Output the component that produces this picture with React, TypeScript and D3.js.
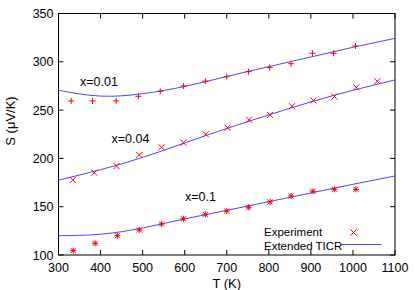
import React from 'react';
import * as d3 from 'd3';

// measured points (Experiment)
const temps01 = [330, 381, 437, 490, 542, 597, 649, 700, 752, 802, 853, 904, 954, 1006];
const seebeck01 = [259.5, 259.5, 259.5, 264.3, 269.5, 275, 280, 284.6, 289.8, 294, 298, 308.8, 308.8, 316.4];

const temps04 = [334, 385, 438, 492, 545, 597, 650, 702, 753, 803, 855, 906, 956, 1008, 1058];
const seebeck04 = [177.6, 185.2, 192.1, 203.5, 211.5, 216.3, 225, 231.8, 240, 245, 254, 260, 264, 273.6, 279.8];

const temps10 = [335, 387, 440, 492, 545, 597, 649, 700, 752, 803, 853, 905, 956, 1007];
const seebeck10 = [104.5, 112.1, 120, 125.9, 132.1, 137.6, 142.1, 145.5, 149.4, 154.9, 161.1, 166, 168, 168];

// model curves (Extended TICR)
const fitTemps = [300, 400, 500, 600, 700, 800, 900, 1000, 1100];
const fit01 = [270.5, 264.5, 267, 274.5, 284.8, 295, 305, 315, 324.3];
const fit04 = [177.5, 188.3, 201, 216, 231, 245, 258.5, 270.5, 281.2];
const fit10 = [120, 121.5, 128, 137.3, 146.2, 155.2, 164.2, 173.2, 181.8];

const xTicks = [300, 400, 500, 600, 700, 800, 900, 1000, 1100];
const yTicks = [100, 150, 200, 250, 300, 350];

const W = 415;
const H = 290;
const margin = { left: 58.5, right: 20, top: 13.5, bottom: 35 };
const font = 'Liberation Sans, Arial, sans-serif';
const red = '#ff0000';
const blue = '#3333ff';

const x = d3.scaleLinear().domain([300, 1100]).range([margin.left, W - margin.right]);
const y = d3.scaleLinear().domain([100, 350]).range([H - margin.bottom, margin.top]);

const line = d3.line<number>()
  .x((_, i) => x(fitTemps[i]))
  .y(d => y(d))
  .curve(d3.curveNatural);

const Plus = ({ cx, cy, s = 3 }: { cx: number; cy: number; s?: number }) => (
  <path d={`M${cx - s},${cy}H${cx + s}M${cx},${cy - s}V${cy + s}`} stroke={red} strokeWidth={1} fill="none" />
);

const Cross = ({ cx, cy, s = 3 }: { cx: number; cy: number; s?: number }) => (
  <path d={`M${cx - s},${cy - s}L${cx + s},${cy + s}M${cx - s},${cy + s}L${cx + s},${cy - s}`} stroke={red} strokeWidth={1} fill="none" />
);

const App: React.FC = () => {
  const [x0, x1] = x.range();
  const [y0, y1] = y.range();
  return (
    <svg width={W} height={H} style={{ position: 'fixed', left: 0, top: 0, background: '#fff' }} fontFamily={font} fontSize={12.5}>
      <defs>
        <clipPath id="plot">
          <rect x={x0} y={y1} width={x1 - x0} height={y0 - y1} />
        </clipPath>
      </defs>

      {/* ticks, mirrored inward */}
      {xTicks.map(t => (
        <g key={'x' + t}>
          <line x1={x(t)} x2={x(t)} y1={y0} y2={y0 - 5} stroke="#000" />
          <line x1={x(t)} x2={x(t)} y1={y1} y2={y1 + 5} stroke="#000" />
          <text x={x(t)} y={y0 + 17} textAnchor="middle">{t}</text>
        </g>
      ))}
      {yTicks.map(t => (
        <g key={'y' + t}>
          <line x1={x0} x2={x0 + 5} y1={y(t)} y2={y(t)} stroke="#000" />
          <line x1={x1} x2={x1 - 5} y1={y(t)} y2={y(t)} stroke="#000" />
          <text x={x0 - 5} y={y(t) + 4.5} textAnchor="end">{t}</text>
        </g>
      ))}

      <g clipPath="url(#plot)" fill="none" stroke={blue} strokeWidth={0.9}>
        <path d={line(fit01) ?? ''} />
        <path d={line(fit04) ?? ''} />
        <path d={line(fit10) ?? ''} />
      </g>

      {temps01.map((t, i) => <Plus key={'a' + i} cx={x(t)} cy={y(seebeck01[i])} />)}
      {temps04.map((t, i) => <Cross key={'b' + i} cx={x(t)} cy={y(seebeck04[i])} />)}
      {temps10.map((t, i) => (
        <g key={'c' + i}>
          <Plus cx={x(t)} cy={y(seebeck10[i])} />
          <Cross cx={x(t)} cy={y(seebeck10[i])} s={2.5} />
        </g>
      ))}

      <rect x={x0} y={y1} width={x1 - x0} height={y0 - y1} fill="none" stroke="#000" />

      <text x={80} y={85.5}>x=0.01</text>
      <text x={111.5} y={143}>x=0.04</text>
      <text x={185} y={200.5}>x=0.1</text>

      {/* legend */}
      <text x={264} y={236} fontSize={11.5}>Experiment</text>
      <Cross cx={353.5} cy={232.5} />
      <text x={264} y={249.5} fontSize={11.5}>Extended TICR</text>
      <line x1={340} x2={381.5} y1={244.5} y2={244.5} stroke={blue} strokeWidth={0.9} />

      <text x={(x0 + x1) / 2} y={288} textAnchor="middle" fontSize={13}>T (K)</text>
      <text transform="translate(15,121) rotate(-90)" textAnchor="middle" fontSize={13}>S (μV/K)</text>
    </svg>
  );
};

export default App;
